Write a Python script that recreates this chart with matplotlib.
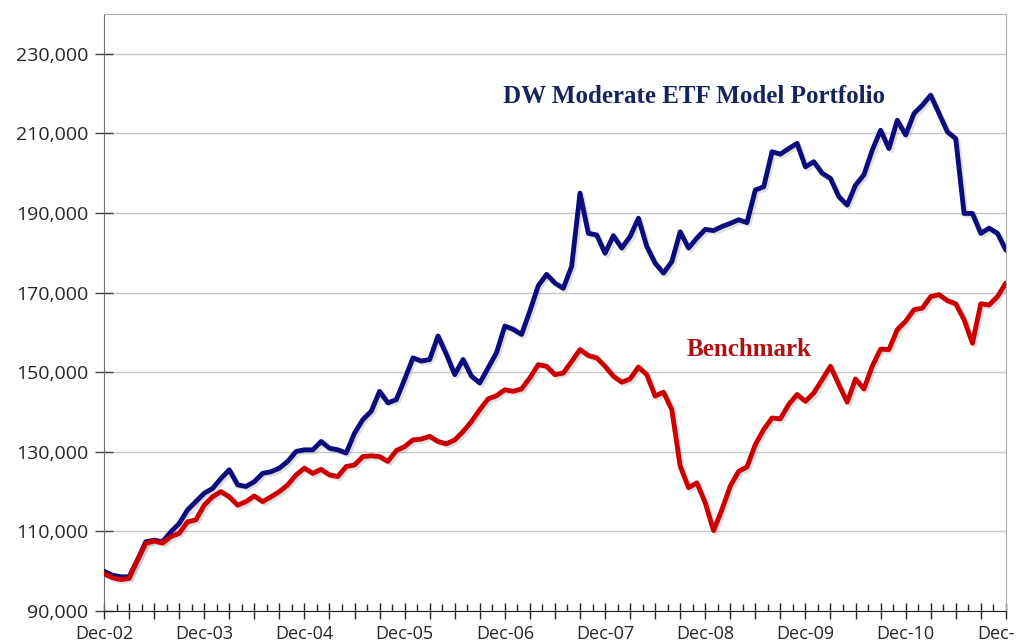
import matplotlib.pyplot as plt
import matplotlib.patheffects as pe
import numpy as np

# month index 0 = Dec-02 ... 108 = Dec-11
months = np.arange(109)

portfolio = [
    100000, 99000, 98600, 98600, 102800, 107400, 107800, 107400, 109900, 112000,
    115400, 117500, 119600, 120800, 123300, 125500, 121700, 121300, 122500, 124600,
    125000, 125900, 127600, 130100, 130500, 130500, 132600, 130900, 130500, 129700,
    134700, 138100, 140200, 145200, 142300, 143100, 148200, 153600, 152800, 153200,
    159100, 154500, 149400, 153200, 149000, 147300, 151100, 154900, 161600, 160800,
    159500, 165400, 171700, 174600, 172400, 171100, 176600, 195000, 184900, 184500,
    179900, 184300, 181200, 184100, 188700, 181600, 177400, 174900, 177800, 185300,
    181200, 183700, 185900, 185600, 186600, 187400, 188300, 187600, 195800, 196600,
    205400, 204800, 206200, 207500, 201600, 202900, 200000, 198700, 194100, 192000,
    197000, 199600, 205800, 210800, 206200, 213300, 209600, 215000, 217100, 219600,
    215000, 210400, 208700, 189900, 189900, 184900, 186200, 184900, 180700,
]

benchmark = [
    99400, 98400, 97900, 98200, 102800, 107000, 107600, 107100, 108700, 109500,
    112400, 112900, 116600, 118700, 120000, 118700, 116600, 117500, 118900, 117500,
    118700, 120000, 121700, 124200, 125900, 124600, 125600, 124200, 123800, 126300,
    126700, 128800, 129000, 128800, 127600, 130300, 131300, 133000, 133200, 133900,
    132600, 132000, 133000, 135100, 137600, 140600, 143300, 144100, 145600, 145200,
    145800, 148600, 151900, 151500, 149400, 149800, 152700, 155700, 154200, 153600,
    151500, 149000, 147500, 148300, 151300, 149400, 144000, 145000, 140600, 126400,
    121000, 122200, 117200, 110200, 115500, 121400, 125100, 126200, 131800, 135600,
    138500, 138300, 141900, 144400, 142700, 144800, 148100, 151500, 146900, 142500,
    148300, 145800, 151500, 155800, 155700, 160700, 162800, 165700, 166100, 169000,
    169500, 168000, 167200, 163200, 157300, 167200, 166900, 169000, 172400,
]

year_labels = ['Dec-02', 'Dec-03', 'Dec-04', 'Dec-05', 'Dec-06',
               'Dec-07', 'Dec-08', 'Dec-09', 'Dec-10', 'Dec-11']
y_ticks = [90000, 110000, 130000, 150000, 170000, 190000, 210000, 230000]

fig = plt.figure(figsize=(10.16, 6.44), dpi=100)
ax = fig.add_axes([0.1024, 0.0512, 0.8876, 0.9270])

shadow = [pe.SimpleLineShadow(offset=(1.5, -1.5), alpha=0.25, shadow_color='gray'), pe.Normal()]
ax.plot(months, portfolio, color='#0c0c7c', lw=3.5, solid_joinstyle='round',
        solid_capstyle='round', path_effects=shadow, zorder=3)
ax.plot(months, benchmark, color='#cc0000', lw=3.5, solid_joinstyle='round',
        solid_capstyle='round', path_effects=shadow, zorder=3)

ax.set_xlim(0, 108)
ax.set_ylim(90000, 240000)

# y axis
ax.set_yticks(y_ticks)
ax.set_yticklabels(['{:,}'.format(v) for v in y_ticks])
ax.grid(axis='y', color='#c8c8c8', lw=1)
ax.set_axisbelow(True)

# x axis: tall ticks every quarter, short ones in between, labels each December
major = np.arange(0, 109, 3)
ax.set_xticks(major)
ax.set_xticklabels([year_labels[m // 12] if m % 12 == 0 else '' for m in major])
ax.set_xticks(np.arange(1.5, 108, 3), minor=True)

ax.tick_params(axis='y', direction='inout', length=13, width=1, color='#404040',
               labelsize=14, pad=5, labelcolor='#262626')
ax.tick_params(axis='x', which='major', direction='inout', length=12, width=1,
               color='#202020', labelsize=13, pad=4, labelcolor='#262626')
ax.tick_params(axis='x', which='minor', direction='in', length=5, width=1, color='#202020')

for lab in ax.get_xticklabels() + ax.get_yticklabels():
    lab.set_family('Open Sans')

ax.spines['left'].set_color('#707070')
ax.spines['bottom'].set_color('#202020')
ax.spines['top'].set_color('#b0b0b0')
ax.spines['right'].set_color('#b0b0b0')

ax.text(70.7, 219400, 'DW Moderate ETF Model Portfolio', ha='center', va='center',
        fontsize=18, fontweight='bold', family='Liberation Serif', color='#16245c')
ax.text(77.3, 155800, 'Benchmark', ha='center', va='center',
        fontsize=18, fontweight='bold', family='Liberation Serif', color='#b01010')

plt.savefig('out.png', dpi=100)
